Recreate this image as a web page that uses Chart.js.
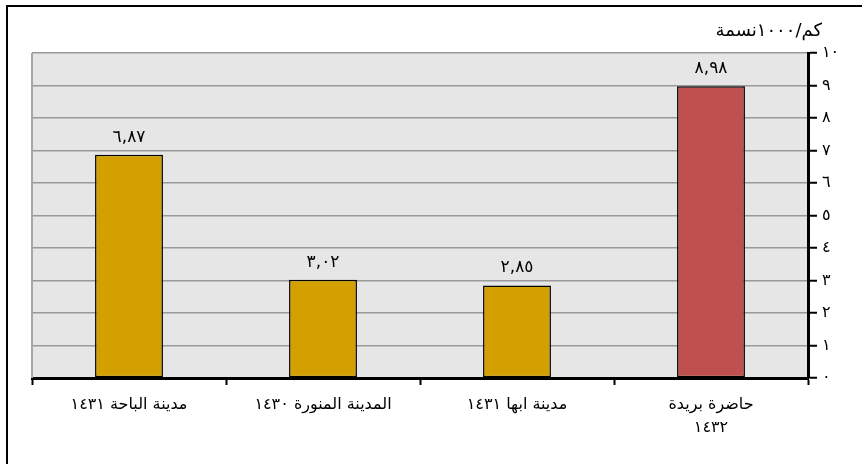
<!DOCTYPE html>
<html lang="ar">
<head>
<meta charset="utf-8">
<script src="https://cdn.jsdelivr.net/npm/chart.js@4/dist/chart.umd.min.js"></script>
<style>
html,body{margin:0;padding:0;background:#fff}
</style>
</head>
<body>
<canvas id="chart" width="862" height="464"></canvas>
<script>
// data
const categories = [["مدينة الباحة ١٤٣١"], ["المدينة المنورة ١٤٣٠"], ["مدينة ابها ١٤٣١"], ["حاضرة بريدة", "١٤٣٢"]];
const values = [6.87, 3.02, 2.85, 8.98];
const yMin = 0, yMax = 10, yStep = 1;
const unitLabel = "كم/١٠٠٠نسمة";

const FONT = "'DejaVu Sans', sans-serif";
const toArabic = (s)=>String(s).replace(/\d/g, d=>"٠١٢٣٤٥٦٧٨٩"[d]);
const fmtValue = (v)=>toArabic(v.toFixed(2)).replace(".", ",");

const decor = {
  id: "decor",
  beforeDraw(chart){
    const {ctx, chartArea:a} = chart;
    ctx.save();
    ctx.fillStyle = "#e6e6e6";
    ctx.fillRect(a.left, a.top, a.right - a.left, a.bottom - a.top);
    // outer frame (right/bottom sides lie off the picture)
    ctx.strokeStyle = "#000";
    ctx.lineWidth = 2;
    ctx.strokeRect(7, 6, 920, 520);
    ctx.restore();
  },
  afterDraw(chart){
    const {ctx, chartArea:a} = chart;
    ctx.save();
    // left edge of the plot
    ctx.strokeStyle = "#a6a6a6";
    ctx.lineWidth = 2;
    ctx.beginPath();
    ctx.moveTo(a.left, a.bottom);
    ctx.lineTo(a.left, a.top);
    ctx.stroke();
    // value labels
    ctx.fillStyle = "#000";
    ctx.font = "17px " + FONT;
    ctx.letterSpacing = "1px";
    ctx.textAlign = "center";
    ctx.textBaseline = "bottom";
    chart.getDatasetMeta(0).data.forEach((bar, i)=>{
      ctx.fillText(fmtValue(values[i]), bar.x, bar.y - 9);
    });
    // unit label
    ctx.font = "18px " + FONT;
    ctx.letterSpacing = "0px";
    ctx.textAlign = "right";
    ctx.textBaseline = "middle";
    ctx.fillText(unitLabel, 822, 31);
    ctx.restore();
  }
};

new Chart(document.getElementById("chart"), {
  type: "bar",
  data: {
    labels: categories,
    datasets: [{
      data: values,
      backgroundColor: ["#d4a000", "#d4a000", "#d4a000", "#c0504d"],
      borderColor: "#000",
      borderWidth: 1.5,
      borderSkipped: false,
      barPercentage: 0.35,
      categoryPercentage: 1
    }]
  },
  options: {
    responsive: false,
    animation: false,
    layout: { padding: { left: 32, top: 53, right: 0, bottom: 0 } },
    plugins: { legend: { display: false }, tooltip: { enabled: false } },
    scales: {
      x: {
        offset: true,
        grid: { offset: true, drawOnChartArea: false, drawTicks: true, tickLength: 7, tickColor: "#000", tickWidth: 2 },
        border: { color: "#000", width: 3 },
        ticks: { color: "#000", font: { family: FONT, size: 16, lineHeight: 1.4 }, padding: 9, maxRotation: 0, autoSkip: false },
        afterFit: (s)=>{ s.height = 86; }
      },
      y: {
        position: "right",
        min: yMin, max: yMax,
        grid: { color: "#999", lineWidth: 1.5, tickColor: "#000", tickLength: 9, tickWidth: 2 },
        border: { color: "#000", width: 3 },
        ticks: { stepSize: yStep, color: "#000", font: { family: FONT, size: 16 }, padding: 5, callback: (v)=>toArabic(v) },
        afterFit: (s)=>{ s.width = 54; }
      }
    }
  },
  plugins: [decor]
});
</script>
</body>
</html>
